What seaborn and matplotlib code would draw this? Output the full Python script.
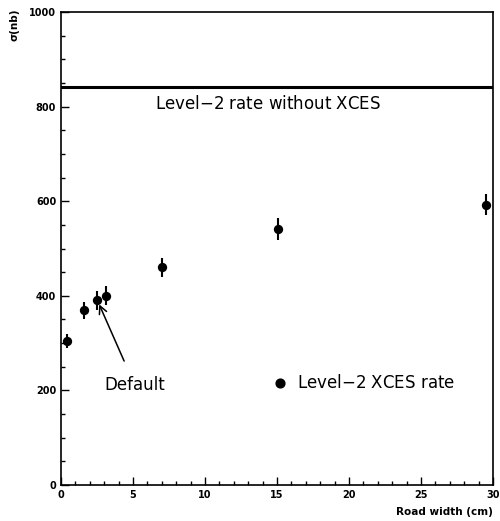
import numpy as np
import pandas as pd
import matplotlib
matplotlib.use("Agg")
import matplotlib.pyplot as plt
from matplotlib.ticker import MultipleLocator
import seaborn as sns

# data
road_width = [0.4, 1.6, 2.5, 3.1, 7.0, 15.1, 29.5]
sigma = [305, 370, 391, 400, 460, 542, 593]
sigma_err = [15, 18, 20, 20, 21, 23, 22]
rate_no_xces = 842

df = pd.DataFrame({"width": road_width, "sigma": sigma, "err": sigma_err})

sns.set_theme(style="ticks")
plt.rcParams["font.family"] = ["DejaVu Sans"]
plt.rcParams["text.color"] = "black"

fig = plt.figure(figsize=(5.0, 5.21), dpi=100)
ax = fig.add_axes([0.122, 0.069, 0.864, 0.908])

ax.errorbar(df["width"], df["sigma"], yerr=df["err"], fmt="none",
            ecolor="black", elinewidth=1.5, capsize=0)
sns.scatterplot(data=df, x="width", y="sigma", ax=ax, color="black",
                s=45, edgecolor="black", linewidth=0, zorder=3)

ax.axhline(rate_no_xces, color="black", lw=2.2)
ax.text(14.4, 805, "Level$-$2 rate without XCES", ha="center", va="center",
        fontsize=12, color="black")

# Default annotation
ax.annotate("Default", xy=(2.65, 382), xytext=(3.0, 212),
            ha="left", va="center", fontsize=12, color="black",
            arrowprops=dict(arrowstyle="->", color="black", lw=1.1,
                            shrinkA=9, shrinkB=0, mutation_scale=14))

# legend-like label
ax.scatter([15.2], [216], color="black", s=40, zorder=3)
ax.text(16.4, 216, "Level$-$2 XCES rate", ha="left", va="center",
        fontsize=12, color="black")

ax.set_xlim(0, 30)
ax.set_ylim(0, 1000)
ax.xaxis.set_major_locator(MultipleLocator(5))
ax.xaxis.set_minor_locator(MultipleLocator(1))
ax.yaxis.set_major_locator(MultipleLocator(200))
ax.yaxis.set_minor_locator(MultipleLocator(50))
ax.tick_params(which="both", direction="in", top=False, right=False,
               colors="black", labelsize=7)
ax.tick_params(which="major", length=6, width=1)
ax.tick_params(which="minor", length=3, width=1)
for lab in ax.get_xticklabels() + ax.get_yticklabels():
    lab.set_fontweight("bold")
for sp in ax.spines.values():
    sp.set_linewidth(1.2)
    sp.set_color("black")

ax.set_xlabel("")
ax.set_ylabel("")
fig.text(0.986, 0.018, "Road width (cm)", ha="right", va="center",
         fontsize=7.5, fontweight="bold", color="black")
fig.text(0.03, 0.952, "σ(nb)", ha="center", va="center", rotation=90,
         fontsize=7.5, fontweight="bold", color="black")

fig.savefig("out.png", dpi=100)
